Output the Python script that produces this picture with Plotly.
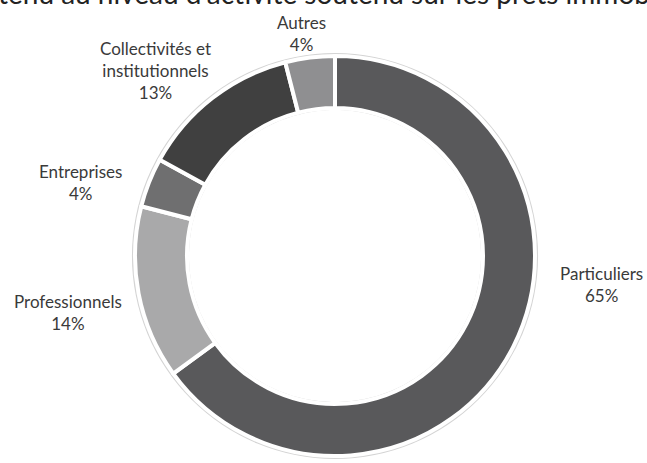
import plotly.graph_objects as go

# Répartition des encours par type de clientèle
categories = ["Particuliers", "Professionnels", "Entreprises",
              "Collectivités et<br>institutionnels", "Autres"]
values = [65, 14, 4, 13, 4]
colors = ["#59595b", "#a9a9aa", "#6f6f70", "#404040", "#8f8f91"]

title_text = "tenu au niveau d'activité soutenu sur les prêts immobiliers"

# label anchor positions (paper coords) for each category
label_pos = [(0.930, 0.385), (0.105, 0.325), (0.124, 0.606),
             (0.240, 0.848), (0.466, 0.928)]

W, H = 647, 463
dom_x = [135 / W, 535 / W]
dom_y = [1 - 456 / H, 1 - 56 / H]

fig = go.Figure()

# light outline ring behind the segments
pad = 3
fig.add_trace(go.Pie(
    values=[1], labels=[""], hole=0.72, sort=False,
    marker=dict(colors=["#d4d4d4"], line=dict(width=0)),
    domain=dict(x=[(135 - pad) / W, (535 + pad) / W],
                y=[1 - (456 + pad) / H, 1 - (56 - pad) / H]),
    textinfo="none", hoverinfo="skip", showlegend=False,
))

fig.add_trace(go.Pie(
    labels=categories, values=values, hole=0.74, sort=False,
    direction="clockwise", rotation=0,
    marker=dict(colors=colors, line=dict(color="#ffffff", width=4)),
    domain=dict(x=dom_x, y=dom_y),
    textinfo="none", showlegend=False,
))

total = sum(values)
for cat, val, (px, py) in zip(categories, values, label_pos):
    fig.add_annotation(
        x=px, y=py, xref="paper", yref="paper",
        text=f"{cat}<br>{round(100 * val / total)}%",
        showarrow=False, xanchor="center", yanchor="middle",
        font=dict(family="Lato", size=17, color="#3a3a3a"),
    )

# heading, partly beyond the top edge
fig.add_annotation(
    x=-0.006, y=1 - 12 / H, xref="paper", yref="paper",
    text=title_text, showarrow=False, xanchor="left", yanchor="bottom",
    font=dict(family="Lato", size=28, color="#222222"),
)

fig.update_layout(
    width=W, height=H,
    margin=dict(l=0, r=0, t=0, b=0),
    paper_bgcolor="white", plot_bgcolor="white",
)

fig.write_html("out.html")
